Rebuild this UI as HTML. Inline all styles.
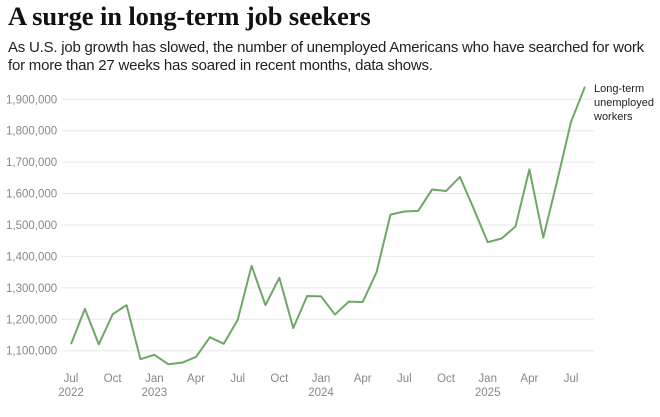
<!DOCTYPE html>
<html><head><meta charset="utf-8"><style>
body{margin:0;background:#fff;width:660px;height:417px;overflow:hidden;font-family:"Liberation Sans",sans-serif}
#title{position:absolute;left:8px;top:1px;font-family:"Liberation Serif",serif;font-weight:bold;font-size:26.5px;letter-spacing:-0.1px;color:#111;white-space:nowrap}
#sub{position:absolute;left:8px;top:39px;font-size:15px;line-height:18px;color:#222;width:652px;white-space:nowrap;letter-spacing:-0.22px}
svg{position:absolute;left:0;top:0}
</style></head><body>
<div id="title">A surge in long-term job seekers</div>
<div id="sub">As U.S. job growth has slowed, the number of unemployed Americans who have searched for work<br>for more than 27 weeks has soared in recent months, data shows.</div>
<svg id="chart" width="660" height="417"></svg>
<script>
const values=[1121,1233,1120,1216,1245,1073,1087,1057,1062,1080,1143,1122,1198,1370,1245,1332,1172,1274,1273,1215,1256,1255,1350,1533,1543,1545,1613,1608,1653,1551,1445,1457,1495,1677,1460,1640,1828,1940];
const yTicks=[1100000,1200000,1300000,1400000,1500000,1600000,1700000,1800000,1900000];
const xTickIdx=[0,3,6,9,12,15,18,21,24,27,30,33,36];
const xTickLabels=["Jul","Oct","Jan","Apr","Jul","Oct","Jan","Apr","Jul","Oct","Jan","Apr","Jul"];
const yearLabels={0:"2022",6:"2023",18:"2024",30:"2025"};
const ns="http://www.w3.org/2000/svg",svg=document.getElementById('chart');
const x=i=>71+i*13.89;
const y=v=>350.7-(v-1100)*0.3143;
function mk(t,a){const e=document.createElementNS(ns,t);for(const k in a)e.setAttribute(k,a[k]);svg.appendChild(e);return e;}
yTicks.forEach(t=>{
 const g=mk('line',{x1:62,x2:594,y1:y(t/1000),y2:y(t/1000),stroke:'#e8e8e8','stroke-width':1});
 
 
 const l=mk('text',{x:6,y:y(t/1000)+4,'font-size':11.5,fill:'#888'});
 l.textContent=t.toLocaleString('en-US');
 
 
});
xTickIdx.forEach((i,k)=>{
 const l=mk('text',{x:x(i),y:382,'font-size':11.5,fill:'#888','text-anchor':'middle'});
 l.textContent=xTickLabels[k];
 
 
 if(yearLabels[i]){
  const yl=mk('text',{x:x(i),y:396,'font-size':11.5,fill:'#888','text-anchor':'middle'});
  yl.textContent=yearLabels[i];
  
  
 }
});
const p=mk('polyline',{points:values.map((v,i)=>x(i)+','+y(v)).join(' '),fill:'none',stroke:'#6fa866','stroke-width':2,'stroke-linejoin':'round'});


['Long-term','unemployed','workers'].forEach((s,k)=>{
 const t=mk('text',{x:594,y:92+k*14,'font-size':11,fill:'#222'});
 t.textContent=s;
 
 
});
</script>
</body></html>
